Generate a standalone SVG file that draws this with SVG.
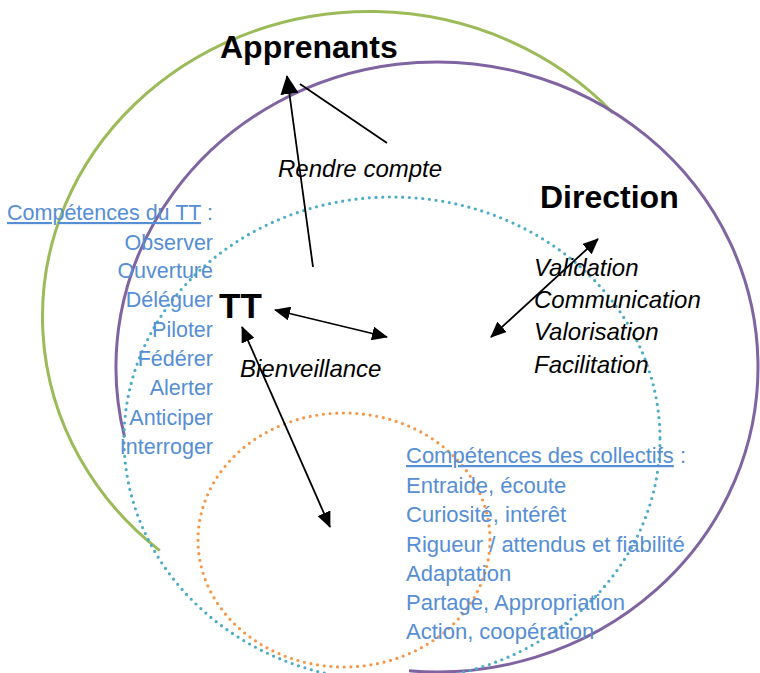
<svg xmlns="http://www.w3.org/2000/svg" width="760" height="673" viewBox="0 0 760 673">
<style>
.green{fill:none;stroke:#9BBB59;stroke-width:3}
.purple{fill:none;stroke:#8064A2;stroke-width:3}
.teal{fill:none;stroke:#4BACC6;stroke-width:3.2;stroke-dasharray:0 6.7;stroke-linecap:round}
.orange{fill:none;stroke:#F79646;stroke-width:3.2;stroke-dasharray:0 6.7;stroke-linecap:round}
.ar{fill:none;stroke:#000;stroke-width:1.8}
.big{font-family:"Liberation Sans",Arial,sans-serif;font-weight:bold;fill:#000}
.it{font-family:"Liberation Sans",Arial,sans-serif;font-style:italic;font-size:24px;fill:#000}
.blue{font-family:"Liberation Sans",Arial,sans-serif;font-size:22px;fill:#558ED5}
</style>
<defs>
<marker id="ah" markerUnits="userSpaceOnUse" markerWidth="16" markerHeight="14" viewBox="0 0 16 14" refX="15" refY="7" orient="auto-start-reverse">
<path d="M0,0 L16,7 L0,14 z" fill="#000"/>
</marker>
<marker id="ahL" markerUnits="userSpaceOnUse" markerWidth="19" markerHeight="18" viewBox="0 0 19 18" refX="18" refY="9" orient="auto">
<path d="M0,0 L19,9 L0,18 z" fill="#000"/>
</marker>
</defs>
<rect width="760" height="673" fill="#fff"/>
<g id="shapes">
<path id="green-arc" class="green" d="M159.8,550.6 A327,305 0 1 1 613,113"/>
<path id="purple-arc" class="purple" d="M124.5,436.7 A321,305 0 1 1 409,670.8"/>
<ellipse id="teal-ellipse" class="teal" cx="392" cy="439" rx="268" ry="242"/>
<ellipse id="orange-ellipse" class="orange" cx="344" cy="540" rx="146" ry="127"/>
</g>
<g id="connectors">
<path class="ar" d="M313,267 L287,76" marker-end="url(#ahL)"/>
<path class="ar" d="M387,143 L300,84"/>
<path class="ar" d="M275,310 L387,337" marker-start="url(#ah)" marker-end="url(#ah)"/>
<path class="ar" d="M598,239 L491,337" marker-start="url(#ah)" marker-end="url(#ah)"/>
<path class="ar" d="M242,327 L330,527" marker-start="url(#ah)" marker-end="url(#ah)"/>
</g>
<g id="apprenants"><text class="big" x="220" y="58" font-size="32">Apprenants</text></g>
<g id="direction"><text class="big" x="540" y="208" font-size="32">Direction</text></g>
<g id="tt"><text class="big" x="219" y="318" font-size="35">TT</text></g>
<g id="labels">
<text class="it" x="278" y="177">Rendre compte</text>
<text class="it" x="240" y="377">Bienveillance</text>
<text class="it" x="534" y="276">Validation</text>
<text class="it" x="534" y="308">Communication</text>
<text class="it" x="534" y="340">Valorisation</text>
<text class="it" x="534" y="373">Facilitation</text>
</g>
<g id="competences-tt" class="blue" text-anchor="end" style="font-size:21.5px">
<text x="213" y="220"><tspan text-decoration="underline">Compétences du TT</tspan> :</text>
<text x="213" y="250">Observer</text>
<text x="213" y="278">Ouverture</text>
<text x="213" y="307">Déléguer</text>
<text x="213" y="337">Piloter</text>
<text x="213" y="366">Fédérer</text>
<text x="213" y="395">Alerter</text>
<text x="213" y="425">Anticiper</text>
<text x="213" y="454">Interroger</text>
</g>
<g id="competences-collectifs" class="blue">
<text x="406" y="463"><tspan text-decoration="underline">Compétences des collectifs</tspan> :</text>
<text x="406" y="493">Entraide, écoute</text>
<text x="406" y="522">Curiosité, intérêt</text>
<text x="406" y="552">Rigueur / attendus et fiabilité</text>
<text x="406" y="581">Adaptation</text>
<text x="406" y="610">Partage, Appropriation</text>
<text x="406" y="639">Action, coopération</text>
</g>
</svg>
